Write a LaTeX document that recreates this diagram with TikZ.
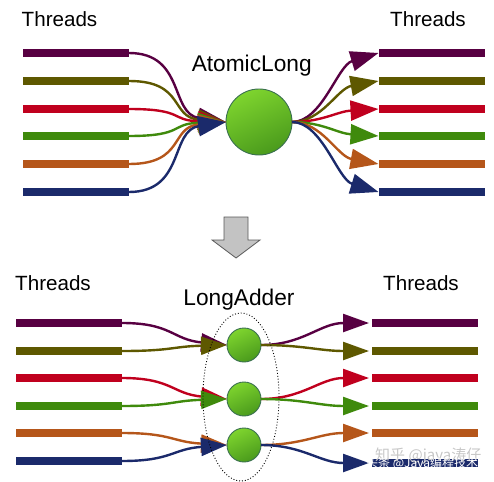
\documentclass[tikz,border=0pt]{standalone}
\usepackage{fontspec}
\setmainfont{Liberation Sans}
\newfontfamily\cjk{Noto Sans CJK SC}
\usetikzlibrary{arrows.meta,shapes.geometric}
\definecolor{cP}{HTML}{580042}
\definecolor{cO}{HTML}{5E5800}
\definecolor{cR}{HTML}{C0001E}
\definecolor{cG}{HTML}{3F8A0C}
\definecolor{cOr}{HTML}{B5561A}
\definecolor{cN}{HTML}{1B2A6B}
\definecolor{gLight}{HTML}{7ED42E}
\definecolor{gDark}{HTML}{4A9A1C}
\definecolor{gEdge}{HTML}{3A7050}
\definecolor{arrowGray}{HTML}{C3C3C3}
\tikzset{
  bar/.style={draw=none,fill=#1,minimum width=106pt,minimum height=7.5pt,inner sep=0pt,outer sep=0pt},
  sbar/.style={draw=none,fill=#1,minimum width=106pt,minimum height=7.5pt,inner sep=0pt,outer sep=0pt},
  conn/.style={draw=#1,line width=2.4pt,-{Triangle[length=28pt,width=20pt]}},
  sconn/.style={draw=#1,line width=2.4pt,-{Triangle[length=26pt,width=18pt]}},
  bigball/.style={circle,draw=gEdge,line width=0.9pt,minimum size=66pt,inner sep=0pt,outer sep=0pt,
     top color=gLight,bottom color=gDark,shading angle=25},
  smallball/.style={circle,draw=gEdge,line width=0.9pt,minimum size=34pt,inner sep=0pt,outer sep=0pt,
     top color=gLight,bottom color=gDark,shading angle=25},
  thr/.style={anchor=base,inner sep=0pt,font=\fontsize{20.6}{24}\selectfont},
  ttl/.style={anchor=base,inner sep=0pt,font=\fontsize{22.7}{27}\selectfont},
  wmark/.style={anchor=base west,inner sep=0pt},
}
\begin{document}
\begin{tikzpicture}[x=1pt,y=-1pt]
\useasboundingbox (0,0) rectangle (494,481);
% ---------------- top part ----------------
\node[thr] (tl) at (59.5,26.7) {Threads};
\node[thr] (tr) at (428,26.7) {Threads};
\node[ttl] (atl) at (251.7,71.7) {AtomicLong};
\node[bigball] (A) at (259,122) {};
\foreach \n/\c/\y in {1/cP/53,2/cO/81,3/cR/109,4/cG/136,5/cOr/164,6/cN/192}{
  \node[bar=\c] (L\n) at (76,\y) {};
  \node[bar=\c] (R\n) at (431.5,\y) {};
}
\foreach \n/\c/\y in {1/cP/53,2/cO/81,3/cR/109,4/cG/136,5/cOr/164,6/cN/192}{
  \pgfmathsetmacro{\tilt}{(\y-122)*0.12}
  \draw[conn=\c] (L\n.east) .. controls +(56,0) and +(-56,\tilt) .. (A.west);
}
\foreach \n/\c/\y in {1/cP/53,2/cO/81,3/cR/109,4/cG/136,5/cOr/164,6/cN/192}{
  \pgfmathsetmacro{\kk}{(122-\y)*0.18}
  \draw[conn=\c] (A.east) .. controls +(30,0) and +(-41,\kk) .. (R\n.west);
}
% gray arrow
\draw[fill=arrowGray,draw=black!65,line width=0.8pt]
  (224,217) -- (248,217) -- (248,240) -- (260,240) -- (236,258) -- (212,240) -- (224,240) -- cycle;
% ---------------- bottom part ----------------
\node[thr] (bl) at (53,290) {Threads};
\node[thr] (br) at (421,290) {Threads};
\node[ttl] (lad) at (239,305) {LongAdder};
\node[smallball] (c1) at (244,345) {};
\node[smallball] (c2) at (244,399) {};
\node[smallball] (c3) at (244,445) {};
\foreach \n/\c/\y in {1/cP/323,2/cO/351,3/cR/378,4/cG/406,5/cOr/433,6/cN/461}{
  \node[sbar=\c] (BL\n) at (69,\y) {};
}
\foreach \n/\c/\y in {1/cP/323,2/cO/351,3/cR/378,4/cG/406,5/cOr/433,6/cN/463}{
  \node[sbar=\c] (BR\n) at (425,\y) {};
}
\foreach \n/\c/\y/\t/\cy in {1/cP/323/c1/345,2/cO/351/c1/345,3/cR/378/c2/399,4/cG/406/c2/399,5/cOr/433/c3/445,6/cN/461/c3/445}{
  \pgfmathsetmacro{\tilt}{(\y-\cy)*0.25}
  \draw[sconn=\c] (BL\n.east) .. controls +(50,0) and +(-55,\tilt) .. (\t.west);
}
\foreach \n/\c/\t in {1/cP/c1,2/cO/c1,3/cR/c2,4/cG/c2,5/cOr/c3,6/cN/c3}{
  \draw[sconn=\c,shorten >=3pt] (\t.east) .. controls +(42,0) and +(-52,0) .. (BR\n.west);
}
\node[draw=black,dotted,line width=0.9pt,ellipse,minimum width=76pt,minimum height=168pt,inner sep=0pt] (grp) at (241,397) {};
% watermarks
\node[wmark,text=black!22,font=\cjk\fontsize{15}{17}\selectfont] (wm1) at (375,460) {知乎 @java涛仔};
\node[wmark,text=white,font=\cjk\fontsize{12}{14}\selectfont] (wm2) at (366,467.5) {头条 @Java编程技术};
\end{tikzpicture}
\end{document}
